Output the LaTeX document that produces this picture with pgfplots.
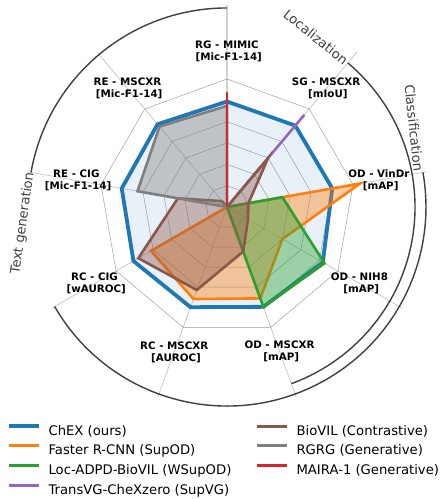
\documentclass[border=0pt]{standalone}
\usepackage{pgfplots}
\pgfplotsset{compat=1.18}
\usepgfplotslibrary{polar}
\usepackage{fontspec}
\setmainfont{DejaVu Sans}
\definecolor{C0}{HTML}{1F77B4}
\definecolor{C1}{HTML}{FF7F0E}
\definecolor{C2}{HTML}{2CA02C}
\definecolor{C3}{HTML}{D62728}
\definecolor{C4}{HTML}{9467BD}
\definecolor{C5}{HTML}{8C564B}
\definecolor{C7}{HTML}{7F7F7F}
\definecolor{arcgray}{HTML}{404040}
\tikzset{lbl/.style={font=\fontsize{10.3}{12}\selectfont\bfseries, align=center, inner sep=0pt},
  grp/.style={text=arcgray, font=\fontsize{13.2}{15}\selectfont, inner sep=0pt}}
\newcommand{\LS}{\rule[-3.6pt]{0pt}{13.2pt}}
\newcommand{\LE}[1]{\makebox[207pt][l]{\LS #1}}
\begin{document}
\begin{tikzpicture}
\path[use as bounding box] (0,0) rectangle (443pt,499pt);
\begin{polaraxis}[
  at={(227pt,292pt)}, anchor=center,
  scale only axis, width=404.48pt, height=404.48pt,
  xmin=0, xmax=360, ymin=0, ymax=1.58,
  hide axis, clip=false,
  xtick=\empty, ytick=\empty,
  legend style={at={(-0.045,-0.037)}, anchor=north west, draw=none, fill=none,
    inner sep=0pt, outer sep=0pt, row sep=7.8pt,
    font=\fontsize{13.2}{15}\selectfont,
    nodes={inner sep=0pt}},
  legend columns=2,
  legend cell align=left,
  legend image code/.code={\draw[#1] (0pt,4.7pt) -- (30pt,4.7pt); \path (0pt,0pt) (38pt,0pt);},
]
% spokes
\addplot[gray!35, line width=1.6pt, forget plot] coordinates {(90,0) (90,1.578)};
\pgfplotsinvokeforeach{50,10,330,290,250,210,170,130}{
  \addplot[gray!60, line width=0.5pt, forget plot] coordinates {(#1,0) (#1,1.578)};
}
% rings
\pgfplotsinvokeforeach{0.16667,0.33333,0.5,0.66667,0.83333,1}{
  \addplot[gray!80, line width=0.45pt, forget plot] coordinates {(90,#1) (50,#1) (10,#1) (330,#1) (290,#1) (250,#1) (210,#1) (170,#1) (130,#1) (90,#1)};
}
% ChEX
\addplot[draw=C0, line width=3.8pt, fill=C0, fill opacity=0.1, forget plot] coordinates {(90,0.824) (50,0.83) (10,0.835) (330,0.864) (290,0.83) (250,0.833) (210,0.844) (170,0.835) (130,0.844) (90,0.824)} -- cycle;
% Faster R-CNN
\addplot[draw=C1, line width=2.6pt, fill=C1, fill opacity=0.4, forget plot] coordinates {(90,0) (50,0) (10,1.055) (330,0.50) (290,0.76) (250,0.765) (210,0.686) (170,0) (130,0) (90,0)} -- cycle;
% Loc-ADPD-BioVIL
\addplot[draw=C2, line width=2.6pt, fill=C2, fill opacity=0.4, forget plot] coordinates {(90,0) (50,0) (10,0.44) (330,0.88) (290,0.83) (250,0) (210,0) (170,0) (130,0) (90,0)} -- cycle;
% TransVG
\addplot[draw=C4, line width=2.6pt, fill=C4, fill opacity=0.4, forget plot] coordinates {(90,0) (50,0.94) (10,0) (330,0) (290,0) (250,0) (210,0) (170,0) (130,0) (90,0)} -- cycle;
% BioVIL
\addplot[draw=C5, line width=2.6pt, fill=C5, fill opacity=0.4, forget plot] coordinates {(90,0) (50,0.50) (10,0.17) (330,0.19) (290,0.37) (250,0.69) (210,0.80) (170,0.39) (130,0.06) (90,0)} -- cycle;
% RGRG
\addplot[draw=C7, line width=2.6pt, fill=C7, fill opacity=0.4, forget plot] coordinates {(90,0.79) (50,0) (10,0) (330,0) (290,0) (250,0) (210,0) (170,0.71) (130,0.82) (90,0.79)} -- cycle;
% MAIRA-1
\addplot[draw=C3, line width=2.6pt, fill=C3, fill opacity=0.4, forget plot] coordinates {(90,0.90) (50,0) (10,0) (330,0) (290,0) (250,0) (210,0) (170,0) (130,0) (90,0.90)} -- cycle;
% legend
\addlegendimage{C0, line width=4pt}\addlegendentry{\LE{ChEX (ours)}}
\addlegendimage{C5, line width=3pt}\addlegendentry{\LE{BioVIL (Contrastive)}}
\addlegendimage{C1, line width=3pt}\addlegendentry{\LE{Faster R-CNN (SupOD)}}
\addlegendimage{C7, line width=3pt}\addlegendentry{\LE{RGRG (Generative)}}
\addlegendimage{C2, line width=3pt}\addlegendentry{\LE{Loc-ADPD-BioVIL (WSupOD)}}
\addlegendimage{C3, line width=3pt}\addlegendentry{\LE{MAIRA-1 (Generative)}}
\addlegendimage{C4, line width=3pt}\addlegendentry{\LE{TransVG-CheXzero (SupVG)}}
% axis labels
\node[lbl] at (axis cs:90,1.215) {RG - MIMIC\\\hspace*{3.5pt}[Mic-F1-14]};
\node[lbl] at (axis cs:50,1.205) {SG - MSCXR\\\hspace*{3.5pt}[mIoU]};
\node[lbl] at (axis cs:10,1.205) {OD - VinDr\\\hspace*{3.5pt}[mAP]};
\node[lbl] at (axis cs:330,1.195) {OD - NIH8\\\hspace*{3.5pt}[mAP]};
\node[lbl] at (axis cs:290,1.20) {OD - MSCXR\\\hspace*{3.5pt}[mAP]};
\node[lbl] at (axis cs:250,1.205) {RC - MSCXR\\\hspace*{3.5pt}[AUROC]};
\node[lbl] at (axis cs:210,1.195) {RC - CIG\\\hspace*{3.5pt}[wAUROC]};
\node[lbl] at (axis cs:170,1.195) {RE - CIG\\\hspace*{3.5pt}[Mic-F1-14]};
\node[lbl] at (axis cs:130,1.21) {RE - MSCXR\\\hspace*{3.5pt}[Mic-F1-14]};
% group arcs
\draw[arcgray, line width=1.4pt] (axis cs:90,1.555) arc[start angle=90, end angle=170, radius=199pt];
\draw[arcgray, line width=1.4pt] (axis cs:50,1.469) arc[start angle=50, end angle=-70, radius=188pt];
\draw[arcgray, line width=1.4pt] (axis cs:210,1.555) arc[start angle=-150, end angle=10, radius=199pt];
\node[grp, rotate=-39] at (axis cs:62.4,1.499) {Localization};
\node[grp, rotate=-84] at (axis cs:22.9,1.586) {Classification};
\node[grp, rotate=82] at (axis cs:184.5,1.60) {Text generation};
\end{polaraxis}
\end{tikzpicture}
\end{document}
